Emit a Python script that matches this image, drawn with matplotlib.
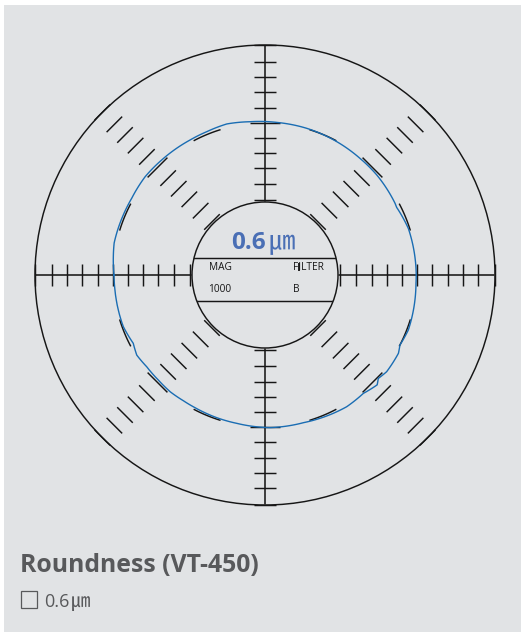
import numpy as np
import matplotlib
matplotlib.use("Agg")
import matplotlib.pyplot as plt
from matplotlib.patches import Circle, Rectangle

# --- data ---
scale_radii = [75, 91, 107, 122, 137, 152, 167, 183, 198, 213, 230]
spoke_angles = [0, 45, 90, 135, 180, 225, 270, 315]
arc_angles = [22.5, 67.5, 112.5, 157.5, 202.5, 247.5, 292.5, 337.5]
reference_radius = 152
outer_radius = 230
inner_radius = 73
trace_angles = [-180, -174.3, -166.6, -160, -152.6, -148, -142.2, -135.5, -129, -123,
                -117.8, -108.7, -100.8, -88, -75.4, -67, -58.2, -50.3, -44.4, -42.4,
                -38.5, -30.4, -27.4, -21, -3.2, 0, 7, 18, 27.2, 28.9, 41.8, 50.8,
                62.5, 74.1, 85, 95.6, 104.2, 112.1, 119, 131.9, 140.7, 150, 157, 168,
                173, 180]
trace_radii = [151, 150.8, 150.8, 150.8, 148.4, 151.2, 149.7, 149.7, 150.4, 149.9,
               150, 150.6, 151, 152.7, 152.6, 153.8, 155, 153.9, 157, 153.4,
               155.4, 154.7, 152, 153.5, 151.2, 151.2, 151, 150.7, 148, 148.5, 150, 150.4,
               151.5, 152.5, 153, 154, 155.8, 154.7, 154.4, 154.6, 155, 153.8, 153.9, 154.2,
               152.8, 151]
chord_offsets = [17.3, -25.7]
title = "Roundness (VT-450)"
value_label = "0.6"
unit = "\u339b"
readout_left = ["MAG", "1000"]
readout_right = ["FILTER", "B"]

# --- style ---
W, H = 521, 632
CX, CY = 265, 275
RMAX = 240
PANEL = "#e1e3e5"
INK = "#161616"
SPINE = "#363636"
BLUE = "#1a6db3"
LABEL_BLUE = "#4a6fb5"
GREY_TEXT = "#58595b"
LW = 1.05
TICK_HALF = 11
SANS = ["Open Sans", "DejaVu Sans"]
CJK = ["Noto Sans CJK KR", "DejaVu Sans"]


def xy(r, deg):
    t = np.radians(deg)
    return CX + np.asarray(r) * np.cos(t), CY - np.asarray(r) * np.sin(t)


fig = plt.figure(figsize=(W / 100, H / 100), dpi=100, facecolor="white")
ax = fig.add_axes([0, 0, 1, 1])
ax.set_xlim(0, W)
ax.set_ylim(H, 0)
ax.axis("off")
ax.add_patch(Rectangle((4, 5), W - 4, H - 5, fc=PANEL, ec="none", zorder=0))

for r in (outer_radius, inner_radius):
    ax.add_patch(Circle((CX, CY), r, fc="none", ec=INK, lw=LW, zorder=2))

# spokes with cross ticks
for a in spoke_angles:
    if a % 90 == 0:
        x, y = xy(np.array([inner_radius, outer_radius]), a)
        ax.plot(x, y, color=SPINE, lw=1.35, solid_capstyle="butt", zorder=2)
    ux, uy = -np.sin(np.radians(a)), -np.cos(np.radians(a))
    for r in scale_radii:
        px, py = xy(r, a)
        half = TICK_HALF
        if r == reference_radius:
            if a in (90, 270):
                half = 15
            elif a % 90 != 0:
                half = 14
        ax.plot([px - half * ux, px + half * ux], [py - half * uy, py + half * uy],
                color=INK, lw=LW, solid_capstyle="butt", zorder=2)

# reference circle dashes
for a in arc_angles:
    th = np.linspace(a - 5.5, a + 5.5, 20)
    x, y = xy(np.full_like(th, reference_radius), th)
    ax.plot(x, y, color=INK, lw=LW, solid_capstyle="butt", zorder=2)

# chords in the inner circle
clip = Circle((CX, CY), inner_radius, transform=ax.transData)
for off in chord_offsets:
    ln, = ax.plot([CX - inner_radius, CX + inner_radius], [CY - off, CY - off],
                  color=INK, lw=LW, zorder=2)
    ln.set_clip_path(clip)

# measured trace on a polar axes centred on the gauge, joined along arcs
pax = fig.add_axes([(CX - RMAX) / W, (H - CY - RMAX) / H, 2 * RMAX / W, 2 * RMAX / H],
                   projection="polar", zorder=3)
pax.patch.set_alpha(0)
pax.axis("off")
pax.set_ylim(0, RMAX)
trace, = pax.plot(np.radians(trace_angles), trace_radii, color=BLUE, lw=1.0,
                  solid_joinstyle="round")
trace.get_path()._interpolation_steps = 30

# readout
ax.text(231.5, 249, value_label, color=LABEL_BLUE, fontsize=17.5, fontweight="bold",
        family=SANS, ha="left", va="baseline", zorder=4)
ax.text(269, 249, unit, color=LABEL_BLUE, fontsize=19, family=CJK,
        ha="left", va="baseline", zorder=4)
for txt, y in zip(readout_left, [270.5, 291.5]):
    ax.text(208.5, y, txt, color=INK, fontsize=7.3, family=SANS, ha="left", va="baseline", zorder=4)
for txt, y in zip(readout_right, [270.5, 291.5]):
    ax.text(292.5, y, txt, color=INK, fontsize=7.3, family=SANS, ha="left", va="baseline", zorder=4)
ax.plot([299, 299], [263, 271], color=INK, lw=1.3, solid_capstyle="butt", zorder=4)

# captions
ax.text(20.5, 572, title, color=GREY_TEXT, fontsize=17.8, fontweight="bold", family=SANS,
        ha="left", va="baseline")
ax.add_patch(Rectangle((21, 591), 16, 17, fc="none", ec=GREY_TEXT, lw=0.9))
ax.text(44.5, 607, value_label, color=GREY_TEXT, fontsize=13, family=SANS, ha="left", va="baseline")
ax.text(70.5, 607, unit, color=GREY_TEXT, fontsize=14, family=CJK, ha="left", va="baseline")

fig.savefig("out.png", dpi=100, facecolor="white")
